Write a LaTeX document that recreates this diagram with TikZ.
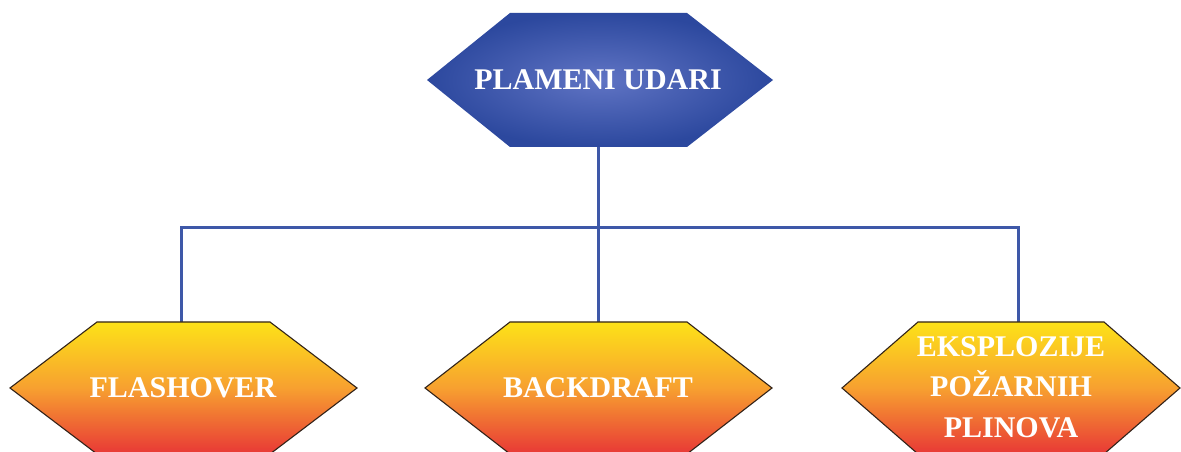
\documentclass[tikz,border=0pt]{standalone}
\usepackage{fontspec}
\setmainfont{Liberation Serif}
\definecolor{hexblueIn}{RGB}{96,116,196}
\definecolor{hexblueOut}{RGB}{44,72,158}
\definecolor{linkblue}{RGB}{62,88,168}
\definecolor{fireTop}{RGB}{253,226,24}
\definecolor{fireMid}{RGB}{247,160,48}
\definecolor{fireBot}{RGB}{232,56,54}
\definecolor{hexedge}{RGB}{50,35,25}
\tikzset{
  link/.style={draw=linkblue,line width=3pt},
  firehex/.style={draw=hexedge,line width=1.1pt,top color=fireTop,bottom color=fireBot,middle color=fireMid},
  bluehex/.style={inner color=hexblueIn,outer color=hexblueOut},
  label/.style={text=white,font=\bfseries\fontsize{30}{40.5}\selectfont,align=center,inner sep=0pt}
}
\begin{document}
\begin{tikzpicture}[x=1pt,y=1pt]
\clip (0,0) rectangle (1181,452);
\fill[white] (0,0) rectangle (1181,452);
% anchor coordinates of hexagons
\coordinate (rootBottom) at (598,305);
\coordinate (junction) at (598,224);
\coordinate (fTop) at (181,130);
\coordinate (bTop) at (598,130);
\coordinate (eTop) at (1018,130);
% connectors
\draw[link] (rootBottom) -- (junction);
\draw[link] (junction) -- (bTop);
\draw[link] (junction) -| (fTop);
\draw[link] (junction) -| (eTop);
% root hexagon
\shade[bluehex] (427,372) -- (510,439) -- (687,439) -- (773,372) -- (687,305) -- (510,305) -- cycle;
\node[label] (root) at (598,372) {PLAMENI UDARI};
% bottom hexagons
\path[firehex] (10,64) -- (97,130) -- (270,130) -- (357,64) -- (270,-2) -- (97,-2) -- cycle;
\path[firehex] (425,64) -- (510,130) -- (687,130) -- (772,64) -- (687,-2) -- (510,-2) -- cycle;
\path[firehex] (842,64) -- (918,130) -- (1104,130) -- (1180,64) -- (1104,-2) -- (918,-2) -- cycle;
\node[label] (flash) at (183,64) {FLASHOVER};
\node[label] (back) at (598,64) {BACKDRAFT};
\node[label] (expl) at (1011,65) {EKSPLOZIJE\\POŽARNIH\\PLINOVA};
\end{tikzpicture}
\end{document}
